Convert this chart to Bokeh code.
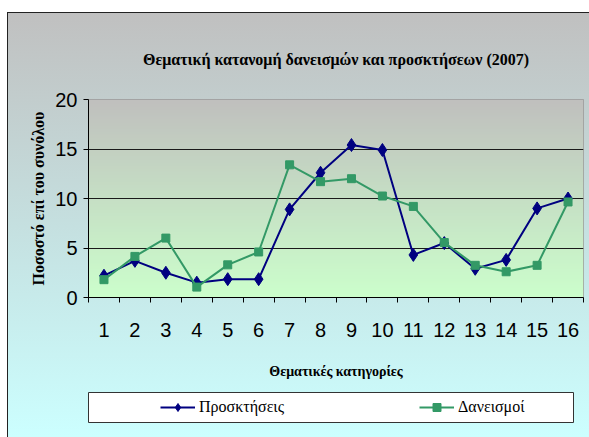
import numpy as np
from bokeh.plotting import figure
from bokeh.models import (FixedTicker, Range1d, Legend, LegendItem, ColumnDataSource, Spacer)
from bokeh.layouts import column, row
from bokeh.embed import file_html
from bokeh.resources import INLINE

# ---- data ----
categories = list(range(1, 17))
proskthseis = [2.2, 3.7, 2.5, 1.5, 1.85, 1.85, 8.9, 12.6, 15.4, 14.9, 4.3, 5.5, 2.9, 3.8, 9.0, 10.0]
daneismoi = [1.8, 4.15, 6.0, 1.05, 3.3, 4.6, 13.4, 11.7, 12.0, 10.25, 9.2, 5.55, 3.25, 2.6, 3.25, 9.65]
y_ticks = [0, 5, 10, 15, 20]
grid_ticks = [0, 5, 10, 15]

title_text = "Θεματική κατανομή δανεισμών και προσκτήσεων (2007)"
x_title = "Θεματικές κατηγορίες"
y_title = "Ποσοστό επί του συνόλου"
name_a = "Προσκτήσεις"
name_b = "Δανεισμοί"
color_a = "#000080"
color_b = "#339966"

x0, x1 = 0.5, 16.5
y0, y1 = 0, 20

p = figure(output_backend="svg", toolbar_location=None,
           x_range=Range1d(x0, x1), y_range=Range1d(y0, y1),
           min_border_left=78, min_border_right=8, min_border_top=86, min_border_bottom=88,
           frame_width=495, frame_height=198)
p.border_fill_alpha = 0
p.background_fill_alpha = 0
p.outline_line_color = "#9a9a9a"

# title
p.title.text = title_text
p.title.align = "center"
p.title.text_font = "Liberation Serif"
p.title.text_font_style = "bold"
p.title.text_font_size = "16px"
p.title.text_color = "black"
p.title.standoff = 64

# plot-area gradient (gray at top -> light green at bottom)
n = 200
t = np.linspace(0, 1, n)
top_c = np.array([192, 192, 190])
bot_c = np.array([204, 255, 204])
img = np.empty((n, 1), dtype=np.uint32)
view = img.view(dtype=np.uint8).reshape((n, 1, 4))
for i in range(n):
    c = bot_c + (top_c - bot_c) * t[i]
    view[i, 0, :3] = c.astype(np.uint8)
    view[i, 0, 3] = 255
p.image_rgba(image=[img], x=x0, y=y0, dw=x1 - x0, dh=y1 - y0, level="image")

# axes
p.xaxis.ticker = FixedTicker(ticks=categories, minor_ticks=[c - 0.5 for c in categories] + [16.5])
p.xaxis.major_tick_out = 0
p.xaxis.major_tick_in = 0
p.xaxis.minor_tick_out = 5
p.xaxis.minor_tick_in = 0
p.xaxis.minor_tick_line_color = "black"
p.xaxis.axis_line_color = "black"
p.xaxis.major_label_standoff = 20
p.xaxis.major_label_text_font = "Liberation Sans"
p.xaxis.major_label_text_font_size = "20px"
p.xaxis.major_label_text_color = "black"
p.xaxis.axis_label = x_title
p.xaxis.axis_label_text_font = "Liberation Serif"
p.xaxis.axis_label_text_font_style = "bold"
p.xaxis.axis_label_text_font_size = "14px"
p.xaxis.axis_label_text_color = "black"
p.xaxis.axis_label_standoff = 24

p.yaxis.ticker = FixedTicker(ticks=y_ticks, minor_ticks=[])
p.yaxis.major_tick_out = 5
p.yaxis.major_tick_in = 0
p.yaxis.major_tick_line_color = "black"
p.yaxis.axis_line_color = "black"
p.yaxis.major_label_standoff = 6
p.yaxis.major_label_text_font = "Liberation Sans"
p.yaxis.major_label_text_font_size = "20px"
p.yaxis.major_label_text_color = "black"
p.yaxis.axis_label = y_title
p.yaxis.axis_label_text_font = "Liberation Serif"
p.yaxis.axis_label_text_font_style = "bold"
p.yaxis.axis_label_text_font_size = "16px"
p.yaxis.axis_label_text_color = "black"
p.yaxis.axis_label_standoff = 5

p.xgrid.visible = False
p.ygrid.ticker = FixedTicker(ticks=grid_ticks)
p.ygrid.grid_line_color = "#1a1a1a"
p.ygrid.grid_line_width = 1.2

# series
src = ColumnDataSource(dict(x=categories, a=proskthseis, b=daneismoi))
p.line("x", "a", source=src, line_color=color_a, line_width=2)
p.scatter("x", "a", source=src, marker="diamond", size=13, fill_color=color_a, line_color=color_a)
p.line("x", "b", source=src, line_color=color_b, line_width=2)
p.scatter("x", "b", source=src, marker="square", size=8, fill_color=color_b, line_color=color_b)

# legend panel (separate small figure: its frame is the white legend box;
# its ranges lie outside the data so that only the legend glyphs show)
q = figure(output_backend="svg", toolbar_location=None,
           x_range=Range1d(100, 101), y_range=Range1d(100, 101),
           min_border_left=80, min_border_right=16, min_border_top=7, min_border_bottom=15,
           frame_width=485, frame_height=30)
q.axis.visible = False
q.grid.visible = False
q.border_fill_alpha = 0
q.background_fill_color = "white"
q.outline_line_color = "#333333"
q.outline_line_width = 1
qa_l = q.line("x", "a", source=src, line_color=color_a, line_width=2)
qa_m = q.scatter("x", "a", source=src, marker="diamond", size=13, fill_color=color_a, line_color=color_a)
qb_l = q.line("x", "b", source=src, line_color=color_b, line_width=2)
qb_m = q.scatter("x", "b", source=src, marker="square", size=8, fill_color=color_b, line_color=color_b)
legend = Legend(items=[LegendItem(label=name_a, renderers=[qa_l, qa_m]),
                       LegendItem(label=name_b, renderers=[qb_l, qb_m])],
                orientation="horizontal", location=(72, 5),
                padding=0, margin=0, spacing=135, glyph_width=35, glyph_height=20,
                label_standoff=4, label_text_font="Liberation Serif", label_text_font_size="16px",
                label_text_color="black", background_fill_alpha=0, border_line_alpha=0)
q.add_layout(legend, "center")

inner = column(p, q, styles={
    "background": "linear-gradient(#c0c0c0, #c6e6e6 60%, #ccffff)",
    "border-top": "1px solid #222", "border-left": "1px solid #222"})
layout = row(Spacer(width=7, height=10), column(Spacer(width=10, height=12), inner))

open("out.html", "w").write(file_html(layout, INLINE))
